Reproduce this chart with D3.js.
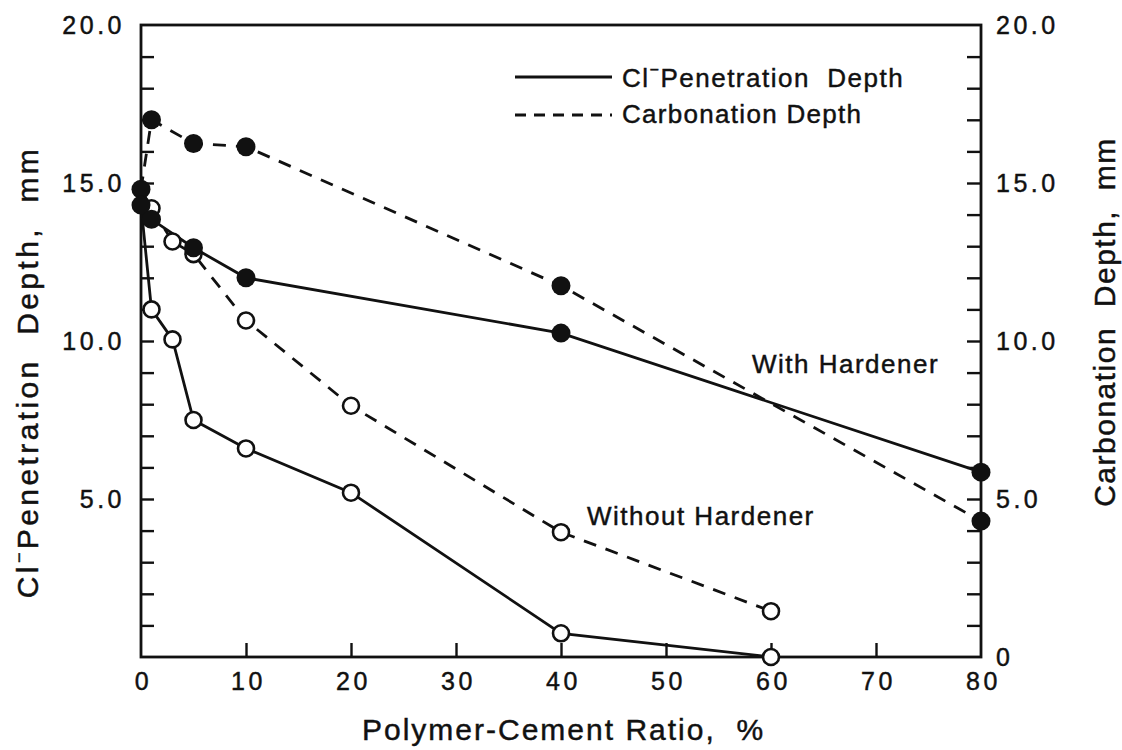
<!DOCTYPE html>
<html><head><meta charset="utf-8">
<script src="https://cdn.jsdelivr.net/npm/d3@7"></script>
<style>
body{margin:0;background:#fff}
text{font-family:"Liberation Sans",Arial,sans-serif;fill:#111;stroke:#111;stroke-width:0.45px;white-space:pre}
</style>
</head><body><svg id="c" width="1122" height="750"></svg>
<script>
// ---- data ----
const xTickValues = [0, 10, 20, 30, 40, 50, 60, 70, 80];
const yLeftLabels = [5, 10, 15, 20];
const yRightLabels = [0, 5, 10, 15, 20];
const yMinorTicks = d3.range(1, 20);

const withX = [0, 1, 5, 10, 40, 80];
const withCl = [14.3, 13.85, 12.95, 12.0, 10.25, 5.85];
const withCarb = [14.8, 17.0, 16.25, 16.15, 11.75, 4.3];

const withoutX = [0, 1, 3, 5, 10, 20, 40, 60];
const withoutCl = [14.3, 11.0, 10.05, 7.5, 6.6, 5.2, 0.75, 0];
const withoutCarb = [14.8, 14.2, 13.15, 12.75, 10.65, 7.95, 3.95, 1.45];

// ---- chart ----
const svg = d3.select("#c");
const x = d3.scaleLinear().domain([0, 80]).range([141, 981]);
const y = d3.scaleLinear().domain([0, 20]).range([657, 25]);
const ink = "#111";
const DASH = "13,10";

function clean(g){ g.select(".domain").remove(); g.selectAll("line").attr("stroke", ink).attr("stroke-width", 2.4); }

// minor ticks
svg.append("g").attr("transform", `translate(${x(0)},0)`)
  .call(d3.axisLeft(y).tickValues(yMinorTicks).tickSize(-13).tickFormat(""))
  .call(clean);
svg.append("g").attr("transform", `translate(${x(80)},0)`)
  .call(d3.axisRight(y).tickValues(yMinorTicks).tickSize(-14).tickFormat(""))
  .call(clean);
svg.append("g").attr("transform", `translate(0,${y(0)})`)
  .call(d3.axisBottom(x).tickValues(xTickValues.slice(1, -1)).tickSize(-14).tickFormat(""))
  .call(clean);

// labels
function lab(g){ g.select(".domain").remove(); g.selectAll("line").remove();
  g.selectAll("text").attr("font-size", 25).attr("letter-spacing", 3.5).attr("fill", ink)
   .attr("font-family", '"Liberation Sans",Arial,sans-serif'); }
svg.append("g").attr("transform", `translate(${x(0)},0)`)
  .call(d3.axisLeft(y).tickValues(yLeftLabels).tickSize(0).tickPadding(16).tickFormat(d3.format(".1f")))
  .call(lab);
svg.append("g").attr("transform", `translate(${x(80)},0)`)
  .call(d3.axisRight(y).tickValues(yRightLabels).tickSize(0).tickPadding(15)
    .tickFormat(d => d === 0 ? "0" : d3.format(".1f")(d)))
  .call(lab);
svg.append("g").attr("transform", `translate(0,${y(0)})`)
  .call(d3.axisBottom(x).tickValues(xTickValues).tickSize(0).tickPadding(15).tickFormat(d3.format("d")))
  .call(lab)
  .call(g => g.selectAll("text").attr("dx", 2));

// frame
svg.append("rect").attr("x", x(0)).attr("y", y(20)).attr("width", x(80) - x(0)).attr("height", y(0) - y(20))
  .attr("fill", "none").attr("stroke", ink).attr("stroke-width", 2.8);

// lines
const line = d3.line().x(d => x(d[0])).y(d => y(d[1]));
const series = [
  {xs: withoutX, ys: withoutCarb, dash: true, filled: false},
  {xs: withoutX, ys: withoutCl, dash: false, filled: false},
  {xs: withX, ys: withCarb, dash: true, filled: true},
  {xs: withX, ys: withCl, dash: false, filled: true}
];
series.forEach(s => {
  const pts = s.xs.map((v, i) => [v, s.ys[i]]);
  svg.append("path").datum(pts).attr("d", line).attr("fill", "none")
    .attr("stroke", ink).attr("stroke-width", 2.8)
    .attr("stroke-dasharray", s.dash ? DASH : null);
});
series.filter(s => !s.filled).forEach(s => {
  const pts = s.xs.map((v, i) => [v, s.ys[i]]).filter(p => p[0] > 0);
  svg.append("g").selectAll("circle").data(pts).join("circle")
    .attr("cx", d => x(d[0])).attr("cy", d => y(d[1])).attr("r", 8)
    .attr("fill", "#fff").attr("stroke", ink).attr("stroke-width", 2.6);
});
series.filter(s => s.filled).forEach(s => {
  const pts = s.xs.map((v, i) => [v, s.ys[i]]);
  svg.append("g").selectAll("circle").data(pts).join("circle")
    .attr("cx", d => x(d[0])).attr("cy", d => y(d[1])).attr("r", 9.5)
    .attr("fill", ink);
});

// legend
svg.append("line").attr("x1", 515).attr("x2", 612).attr("y1", 77).attr("y2", 77)
  .attr("stroke", ink).attr("stroke-width", 2.8);
svg.append("line").attr("x1", 515).attr("x2", 612).attr("y1", 115).attr("y2", 115)
  .attr("stroke", ink).attr("stroke-width", 2.8).attr("stroke-dasharray", "11,8");
const l1 = svg.append("text").attr("x", 622).attr("y", 87).attr("font-size", 26).attr("letter-spacing", 1.5);
l1.append("tspan").text("Cl");
l1.append("tspan").attr("font-size", 16).attr("dy", -12).text("−");
l1.append("tspan").attr("dy", 12).text("Penetration  Depth");
svg.append("text").attr("x", 622).attr("y", 123).attr("font-size", 26).attr("letter-spacing", 1.3)
  .text("Carbonation Depth");

// annotations
svg.append("text").attr("x", 752).attr("y", 373).attr("font-size", 26).attr("letter-spacing", 1.5).text("With Hardener");
svg.append("text").attr("x", 587).attr("y", 525).attr("font-size", 26).attr("letter-spacing", 1.5).text("Without Hardener");

// axis titles
svg.append("text").attr("x", 362).attr("y", 740).attr("font-size", 30).attr("letter-spacing", 2)
  .text("Polymer-Cement Ratio,  %");
const lt = svg.append("text").attr("transform", "translate(38,372) rotate(-90)")
  .attr("text-anchor", "middle").attr("font-size", 30).attr("letter-spacing", 3.4);
lt.append("tspan").text("Cl");
lt.append("tspan").attr("font-size", 18).attr("dy", -13).text("−");
lt.append("tspan").attr("dy", 13).text("Penetration  Depth,  mm");
svg.append("text").attr("transform", "translate(1115,322) rotate(-90)")
  .attr("text-anchor", "middle").attr("font-size", 30).attr("letter-spacing", 1.5)
  .text("Carbonation  Depth,  mm");
</script>
</body></html>
